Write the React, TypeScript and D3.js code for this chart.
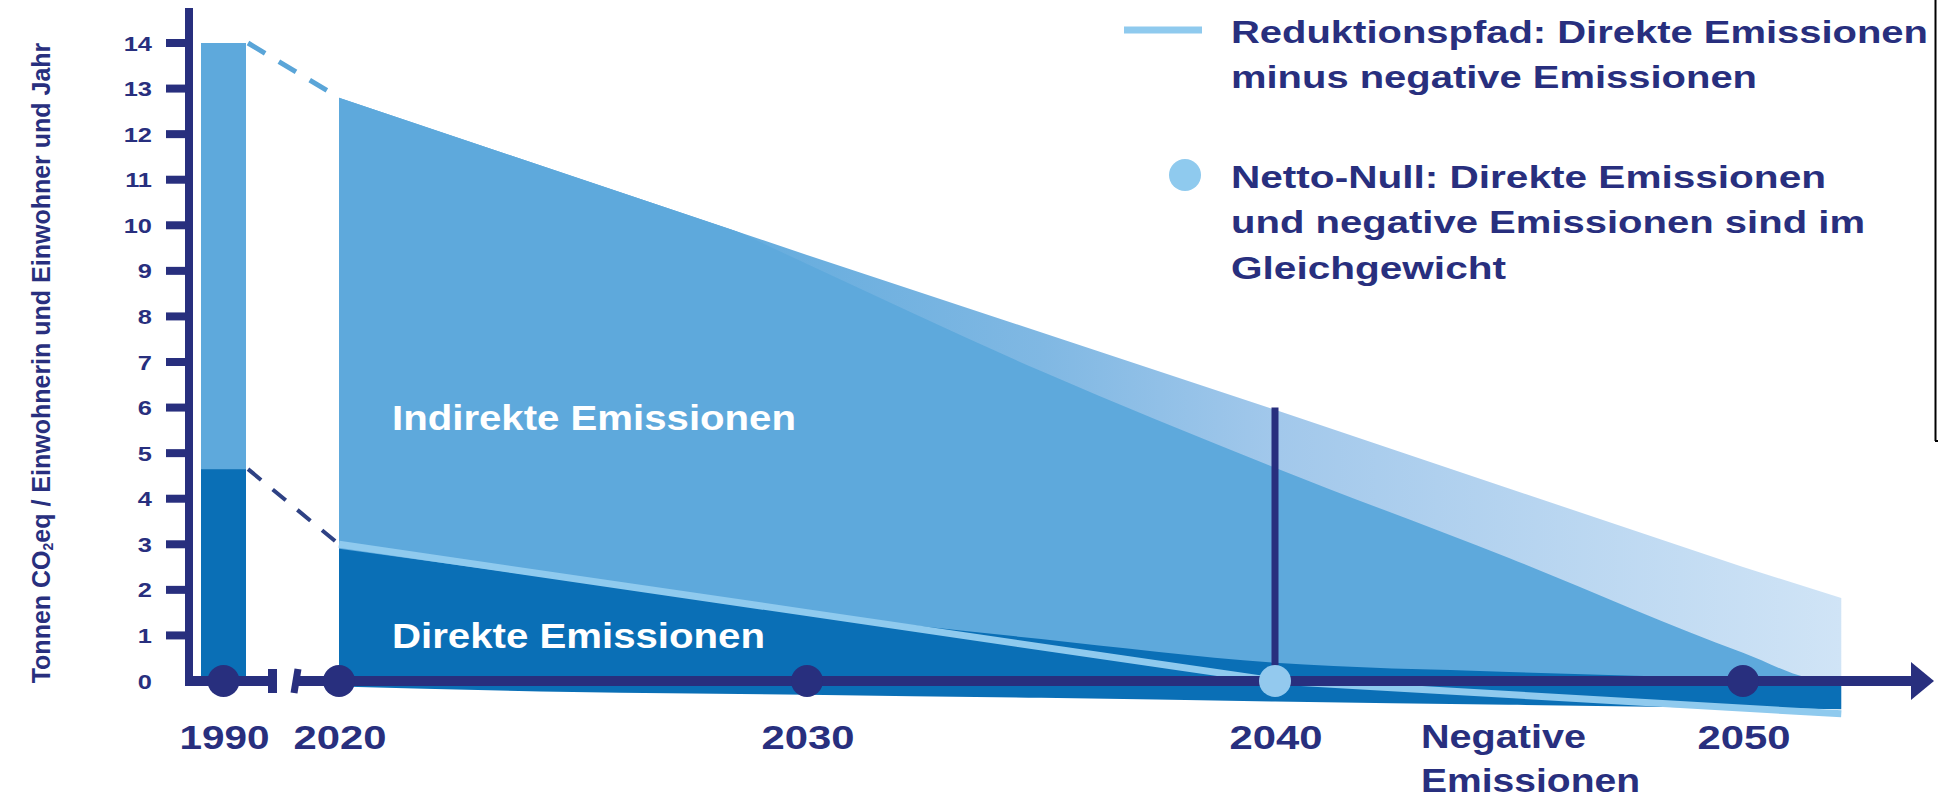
import React from "react";
import * as d3 from "d3";

// ---------- Data ----------
const yTickValues = [0, 1, 2, 3, 4, 5, 6, 7, 8, 9, 10, 11, 12, 13, 14];
const baseYearLabel = "1990";
const baseDirect = 4.65; // 1990 direkte Emissionen
const baseTotal = 14; // 1990 gesamt

// oberer Rand aller Emissionen (inkl. heller Bereich)
const totalYears = [2020, 2030, 2040, 2050, 2052.1];
const totalTop = [12.8, 9.35, 5.95, 2.5, 1.82];

// oberer Rand indirekte Emissionen (mittelblau)
const indirectYears = [2020, 2025, 2028, 2030, 2035, 2040, 2045, 2050, 2051.6, 2052.1];
const indirectTop = [13.0, 11.3, 10.1, 9.15, 6.8, 4.68, 2.7, 0.62, 0.04, 0.02];

// direkte Emissionen (dunkelblau)
const directYears = [2020, 2025, 2030, 2035, 2040, 2045, 2050, 2052.1];
const directTop = [2.9, 2.2, 1.5, 0.92, 0.4, 0.2, 0.06, 0.02];
const directBottom = [-0.12, -0.24, -0.3, -0.37, -0.45, -0.52, -0.59, -0.62];

// Reduktionspfad
const reductionYears = [2020, 2030, 2040, 2052.1];
const reductionValues = [3.0, 1.5, 0, -0.72];

// Meilensteine
const milestoneYears = [2020, 2030, 2040, 2050];
const netZeroYear = 2040;
const netZeroLineTop = 6;
const connectorEnd = [12.8, 3.0];

const legendTexts1 = ["Reduktionspfad: Direkte Emissionen", "minus negative Emissionen"];
const legendTexts2 = ["Netto-Null: Direkte Emissionen", "und negative Emissionen sind im", "Gleichgewicht"];

// ---------- Styles ----------
const NAVY = "#282f7e";
const DARK = "#0a6fb6";
const MED = "#5ea9dc";
const LIGHTLINE = "#8fcaee";
const FONT = "'Liberation Sans', Arial, Helvetica, sans-serif";

const W = 1938;
const H = 798;

const y = d3.scaleLinear().domain([0, 14]).range([681, 43]);
const x = d3.scaleLinear().domain([2020, 2050]).range([339, 1743]);
const xBase = d3.scaleBand().domain([baseYearLabel]).range([201, 246]);

function zip(xs: number[], ys: number[]) {
  return xs.map((v, i) => [v, ys[i]] as [number, number]);
}

function WText(props: {
  x: number;
  y: number;
  w: number;
  size: number;
  fill?: string;
  anchor?: string;
  children: React.ReactNode;
}) {
  return (
    <text
      x={props.x}
      y={props.y}
      fontSize={props.size}
      fontFamily={FONT}
      fontWeight="bold"
      fill={props.fill || NAVY}
      textAnchor={props.anchor || "start"}
      textLength={props.w}
      lengthAdjust="spacingAndGlyphs"
    >
      {props.children}
    </text>
  );
}

export default function App() {
  const areaTop = d3
    .area<[number, number]>()
    .x((d) => x(d[0]))
    .y0(() => y(0))
    .y1((d) => y(d[1]));

  const totalPath = areaTop(zip(totalYears, totalTop)) || "";
  const indirectPath =
    d3
      .area<[number, number]>()
      .curve(d3.curveMonotoneX)
      .x((d) => x(d[0]))
      .y0(() => y(0))
      .y1((d) => y(d[1]))(zip(indirectYears, indirectTop)) || "";

  const directData = directYears.map((yr, i) => ({ yr, top: directTop[i], bot: directBottom[i] }));
  const directPath =
    d3
      .area<{ yr: number; top: number; bot: number }>()
      .curve(d3.curveMonotoneX)
      .x((d) => x(d.yr))
      .y0((d) => y(d.bot))
      .y1((d) => y(d.top))(directData) || "";

  const reductionPath =
    d3
      .line<[number, number]>()
      .x((d) => x(d[0]))
      .y((d) => y(d[1]))(zip(reductionYears, reductionValues)) || "";

  const bx0 = xBase(baseYearLabel) || 0;
  const bw = xBase.bandwidth();
  const bxc = bx0 + bw / 2;
  const y0 = y(0);

  const gx0 = x(2027);
  const gx1 = x(2052.1);

  return (
    <svg
      width={W}
      height={H}
      viewBox={`0 0 ${W} ${H}`}
      style={{ position: "absolute", left: 0, top: 0, background: "#fff" }}
    >
      <defs>
        <linearGradient id="lightGrad" gradientUnits="userSpaceOnUse" x1={gx0} y1={0} x2={gx1} y2={0}>
          <stop offset="0" stopColor={MED} />
          <stop offset="0.32" stopColor="#80b8e3" />
          <stop offset="0.52" stopColor="#a2c8eb" />
          <stop offset="1" stopColor="#d0e4f6" />
        </linearGradient>
        <clipPath id="totalClip">
          <path d={totalPath} />
        </clipPath>
      </defs>

      {/* 1990 bar */}
      <rect x={bx0} y={y(baseTotal)} width={bw} height={y(baseDirect) - y(baseTotal)} fill={MED} />
      <rect x={bx0} y={y(baseDirect)} width={bw} height={y0 - y(baseDirect)} fill={DARK} />

      {/* dashed connectors */}
      <line
        x1={bx0 + bw + 2}
        y1={y(baseTotal)}
        x2={x(2020)}
        y2={y(connectorEnd[0])}
        stroke="#5aa5d8"
        strokeWidth={5}
        strokeDasharray="20 16"
      />
      <line
        x1={bx0 + bw + 2}
        y1={y(baseDirect)}
        x2={x(2020)}
        y2={y(connectorEnd[1])}
        stroke="#2e4184"
        strokeWidth={4}
        strokeDasharray="17 15"
      />

      {/* areas */}
      <path d={totalPath} fill="url(#lightGrad)" />
      <path d={indirectPath} fill={MED} clipPath="url(#totalClip)" />
      <path d={directPath} fill={DARK} />

      {/* reduction path */}
      <path d={reductionPath} fill="none" stroke={LIGHTLINE} strokeWidth={7} />

      {/* area labels */}
      <WText x={392} y={430} w={404} size={35} fill="#ffffff">
        Indirekte Emissionen
      </WText>
      <WText x={392} y={648} w={373} size={35} fill="#ffffff">
        Direkte Emissionen
      </WText>

      {/* net-zero vertical line */}
      <line x1={x(netZeroYear)} x2={x(netZeroYear)} y1={y(netZeroLineTop)} y2={y0} stroke={NAVY} strokeWidth={7} />

      {/* y axis */}
      <line x1={189} x2={189} y1={8} y2={686} stroke={NAVY} strokeWidth={8} />
      {yTickValues
        .filter((v) => v > 0)
        .map((v) => (
          <line key={"t" + v} x1={166} x2={189} y1={y(v)} y2={y(v)} stroke={NAVY} strokeWidth={8} />
        ))}
      {yTickValues.map((v) => (
        <text
          key={"l" + v}
          transform={`translate(152,${y(v) + 7.5}) scale(1.27,1)`}
          fontSize={20}
          fontFamily={FONT}
          fontWeight="bold"
          fill={NAVY}
          textAnchor="end"
        >
          {v}
        </text>
      ))}

      {/* y axis title */}
      <text
        transform={`translate(50,363) rotate(-90)`}
        fontSize={25}
        fontFamily={FONT}
        fontWeight="bold"
        fill={NAVY}
        textAnchor="middle"
      >
        Tonnen CO
        <tspan fontSize={14} dy={3}>
          2
        </tspan>
        <tspan dy={-3}>eq / Einwohnerin und Einwohner und Jahr</tspan>
      </text>

      {/* x axis with break */}
      <line x1={185} x2={272} y1={y0} y2={y0} stroke={NAVY} strokeWidth={10} />
      <line x1={272.5} x2={272.5} y1={669} y2={693} stroke={NAVY} strokeWidth={9} />
      <line x1={298} x2={294} y1={669} y2={693} stroke={NAVY} strokeWidth={7} />
      <line x1={295} x2={1915} y1={y0} y2={y0} stroke={NAVY} strokeWidth={10} />
      <polygon points={`1911,${y0 - 19} 1934,${y0} 1911,${y0 + 19}`} fill={NAVY} />

      {/* milestone circles */}
      <circle cx={bxc} cy={y0} r={16} fill={NAVY} />
      {milestoneYears.map((yr) => (
        <circle key={yr} cx={x(yr)} cy={y0} r={16} fill={yr === netZeroYear ? "#93c9ee" : NAVY} />
      ))}

      {/* x labels */}
      <WText x={bxc + 1} y={749} w={90} size={34} anchor="middle">
        {baseYearLabel}
      </WText>
      {milestoneYears.map((yr) => (
        <WText key={"y" + yr} x={x(yr) + 1} y={749} w={93} size={34} anchor="middle">
          {String(yr)}
        </WText>
      ))}
      <WText x={1421} y={748} w={165} size={34}>
        Negative
      </WText>
      <WText x={1421} y={792} w={219} size={34}>
        Emissionen
      </WText>

      {/* legend */}
      <line x1={1124} x2={1202} y1={30} y2={30} stroke={LIGHTLINE} strokeWidth={7} />
      <WText x={1231} y={43} w={697} size={31}>
        {legendTexts1[0]}
      </WText>
      <WText x={1231} y={88} w={526} size={31}>
        {legendTexts1[1]}
      </WText>
      <circle cx={1185} cy={175} r={16} fill={LIGHTLINE} />
      <WText x={1231} y={188} w={595} size={31}>
        {legendTexts2[0]}
      </WText>
      <WText x={1231} y={233} w={634} size={31}>
        {legendTexts2[1]}
      </WText>
      <WText x={1231} y={279} w={275} size={31}>
        {legendTexts2[2]}
      </WText>

      {/* frame edge */}
      <line x1={1935.5} x2={1935.5} y1={0} y2={441} stroke="#000" strokeWidth={2} />
      <line x1={1935} x2={1938} y1={441} y2={441} stroke="#000" strokeWidth={2} />
    </svg>
  );
}
